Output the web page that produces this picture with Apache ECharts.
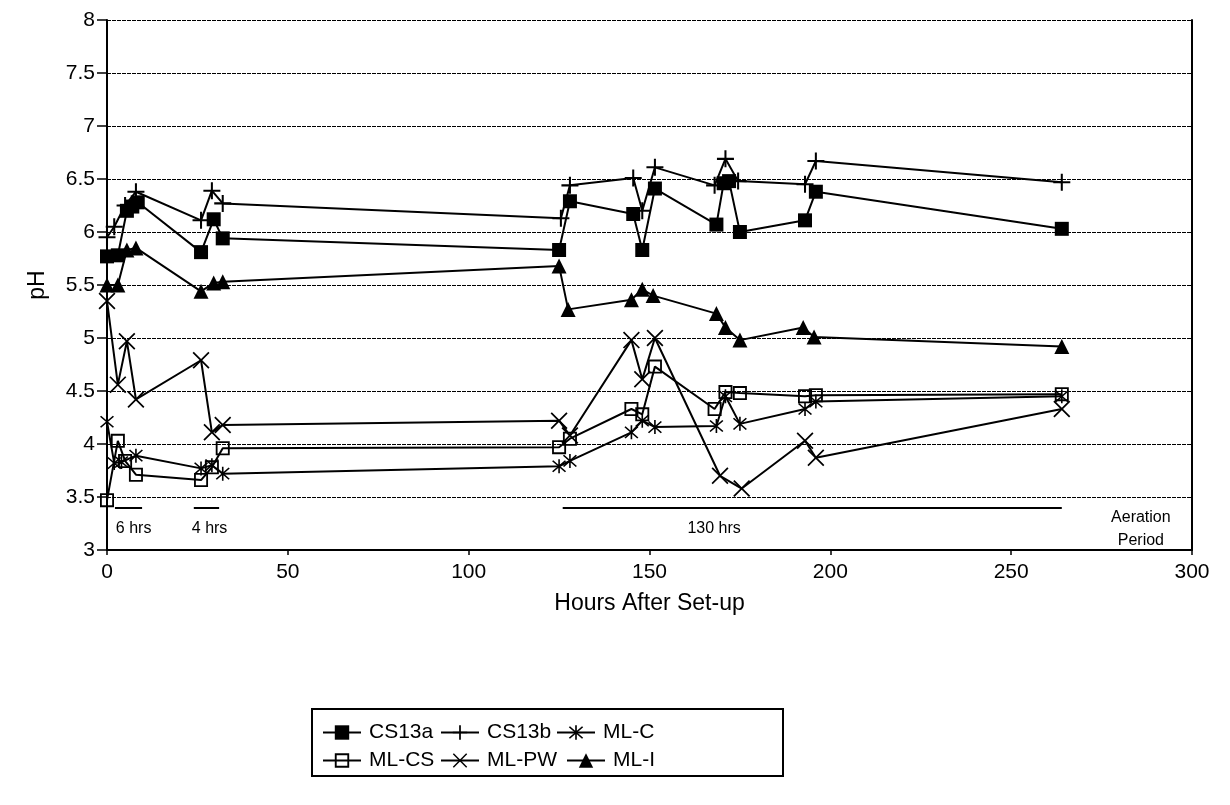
<!DOCTYPE html>
<html>
<head>
<meta charset="utf-8">
<script src="https://cdn.jsdelivr.net/npm/echarts@6/dist/echarts.min.js"></script>
<style>
  html, body { margin: 0; padding: 0; background: #fff; }
  #chart { width: 1230px; height: 805px; }
</style>
</head>
<body>
<div id="chart"></div>
<script>
// pH readings over time for each column
const cs13aHours = [0, 3, 5.5, 7, 8.5, 26, 29.5, 32, 125, 128, 145.5, 148, 151.5, 168.5, 170.5, 172, 175, 193, 196, 264];
const cs13aPH    = [5.77, 5.78, 6.2, 6.24, 6.28, 5.81, 6.12, 5.94, 5.83, 6.29, 6.17, 5.83, 6.41, 6.07, 6.46, 6.48, 6.0, 6.11, 6.38, 6.03];

const cs13bHours = [0, 2, 5, 8, 26, 29, 32, 125.5, 128, 145.5, 148, 151.5, 168, 171, 174.5, 193, 196, 264];
const cs13bPH    = [5.95, 6.05, 6.25, 6.38, 6.11, 6.39, 6.27, 6.13, 6.44, 6.51, 6.2, 6.61, 6.44, 6.69, 6.48, 6.45, 6.67, 6.47];

const mlcHours = [0, 2, 4, 8, 26, 29, 32, 125, 128, 145, 148, 151.5, 168.5, 171, 175, 193, 196, 264];
const mlcPH    = [4.21, 3.82, 3.83, 3.89, 3.77, 3.8, 3.72, 3.79, 3.84, 4.11, 4.22, 4.16, 4.17, 4.45, 4.19, 4.33, 4.4, 4.45];

const mlcsHours = [0, 3, 5, 8, 26, 29, 32, 125, 128, 145, 148, 151.5, 168, 171, 175, 193, 196, 264];
const mlcsPH    = [3.47, 4.03, 3.84, 3.71, 3.66, 3.78, 3.96, 3.97, 4.05, 4.33, 4.28, 4.73, 4.33, 4.49, 4.48, 4.45, 4.46, 4.47];

const mlpwHours = [0, 3, 5.5, 8, 26, 29, 32, 125, 128, 145, 148, 151.5, 169.5, 175.5, 193, 196, 264];
const mlpwPH    = [5.35, 4.56, 4.97, 4.42, 4.79, 4.11, 4.18, 4.22, 4.08, 4.98, 4.61, 5.0, 3.7, 3.58, 4.03, 3.87, 4.33];

const mliHours = [0, 3, 5.5, 8, 26, 29.5, 32, 125, 127.5, 145, 148, 151, 168.5, 171, 175, 192.5, 195.5, 264];
const mliPH    = [5.5, 5.5, 5.83, 5.85, 5.44, 5.52, 5.53, 5.68, 5.27, 5.36, 5.46, 5.4, 5.23, 5.1, 4.98, 5.1, 5.01, 4.92];

// sampling-interval brackets drawn under the curves: [startHour, endHour, pH level]
const periodSpans  = [[2.2, 9.7, 3.4], [24, 31, 3.4], [126, 264, 3.4]];
const periodLabels = [['6 hrs', 7.5, 3.2], ['4 hrs', 28.5, 3.2], ['130 hrs', 168, 3.2]];
const aerationLabel = ['Aeration\nPeriod', 286, 3.19];

// marker shapes built from thin bars
function bar(x1, y1, x2, y2, w) {
  const dx = x2 - x1, dy = y2 - y1, L = Math.hypot(dx, dy);
  const nx = -dy / L * w / 2, ny = dx / L * w / 2;
  const f = v => v.toFixed(2);
  return 'M' + f(x1 + nx) + ',' + f(y1 + ny) + ' L' + f(x2 + nx) + ',' + f(y2 + ny) +
         ' L' + f(x2 - nx) + ',' + f(y2 - ny) + ' L' + f(x1 - nx) + ',' + f(y1 - ny) + ' Z';
}
const plusSym   = 'path://' + bar(10, 0, 10, 20, 2.4) + ' ' + bar(0, 10, 20, 10, 2.4);
const crossSym  = 'path://' + bar(0, 0, 20, 20, 2.2) + ' ' + bar(20, 0, 0, 20, 2.2);
const starSym   = 'path://' + bar(10, 0, 10, 20, 2.0) + ' ' + bar(2, 2, 18, 18, 2.0) + ' ' + bar(18, 2, 2, 18, 2.0);
const hollowSq  = 'path://M0,0 L20,0 L20,20 L0,20 Z M2.6,2.6 L2.6,17.4 L17.4,17.4 L17.4,2.6 Z';

const zip = (xs, ys) => xs.map((x, i) => [x, ys[i]]);

function lineSeries(name, hours, vals, symbol, size) {
  return {
    name: name,
    type: 'line',
    data: zip(hours, vals),
    symbol: symbol,
    symbolSize: size,
    showAllSymbol: true,
    lineStyle: { color: '#000', width: 2 },
    itemStyle: { color: '#000' },
    emphasis: { disabled: true },
    z: 3
  };
}

const chart = echarts.init(document.getElementById('chart'), null, { renderer: 'canvas' });

const FONT = '"Liberation Sans", Arial, Helvetica, sans-serif';

function legendAt(name, left, top) {
  return {
    data: [name],
    left: left,
    top: top,
    orient: 'horizontal',
    itemWidth: 38,
    itemHeight: 18,
    itemGap: 0,
    padding: 0,
    selectedMode: false,
    textStyle: { fontFamily: FONT, fontSize: 21, color: '#000', padding: [0, 0, 0, 3] }
  };
}

const option = {
  animation: false,
  backgroundColor: '#fff',
  grid: { left: 107, right: 38, top: 20, bottom: 255, containLabel: false },
  xAxis: {
    type: 'value',
    min: 0, max: 300, interval: 50,
    name: 'Hours After Set-up',
    nameLocation: 'middle',
    nameGap: 42,
    nameTextStyle: { fontFamily: FONT, fontSize: 23, color: '#000' },
    axisLine: { show: true, onZero: false, lineStyle: { color: '#000', width: 2 } },
    axisTick: { show: true, length: 5, lineStyle: { color: '#000', width: 1.5 } },
    axisLabel: { fontFamily: FONT, fontSize: 21, color: '#000', margin: 12 },
    splitLine: { show: false }
  },
  yAxis: [{
    type: 'value',
    min: 3, max: 8, interval: 0.5,
    name: 'pH',
    nameLocation: 'middle',
    nameGap: 58,
    nameRotate: 90,
    nameTextStyle: { fontFamily: FONT, fontSize: 23, color: '#000' },
    axisLine: { show: true, lineStyle: { color: '#000', width: 2 } },
    axisTick: { show: true, length: 10, lineStyle: { color: '#000', width: 1.5 } },
    axisLabel: { fontFamily: FONT, fontSize: 21, color: '#000', margin: 12 },
    splitLine: { show: true, lineStyle: { color: '#000', width: 1.2, type: [4, 1] } }
  }, {
    type: 'value',
    min: 3, max: 8, interval: 0.5,
    position: 'right',
    axisLine: { show: true, lineStyle: { color: '#000', width: 2 } },
    axisTick: { show: false },
    axisLabel: { show: false },
    splitLine: { show: false }
  }],
  legend: [
    legendAt('CS13a', 322, 722),
    legendAt('CS13b', 440, 722),
    legendAt('ML-C', 556, 722),
    legendAt('ML-CS', 322, 750),
    legendAt('ML-PW', 440, 750),
    legendAt('ML-I', 566, 750)
  ],
  graphic: [{
    type: 'rect',
    shape: { x: 312, y: 709, width: 471, height: 67 },
    style: { fill: 'none', stroke: '#000', lineWidth: 2 },
    silent: true
  }],
  series: [
    lineSeries('CS13a', cs13aHours, cs13aPH, 'rect', 14),
    lineSeries('CS13b', cs13bHours, cs13bPH, plusSym, 17),
    lineSeries('ML-C', mlcHours, mlcPH, starSym, 14),
    lineSeries('ML-CS', mlcsHours, mlcsPH, hollowSq, 14),
    lineSeries('ML-PW', mlpwHours, mlpwPH, crossSym, 17),
    lineSeries('ML-I', mliHours, mliPH, 'triangle', 15),
    {
      name: 'periods',
      type: 'lines',
      coordinateSystem: 'cartesian2d',
      silent: true,
      lineStyle: { color: '#000', width: 2, opacity: 1 },
      data: periodSpans.map(s => ({ coords: [[s[0], s[2]], [s[1], s[2]]] }))
    },
    {
      name: 'periodText',
      type: 'scatter',
      silent: true,
      symbol: 'circle',
      symbolSize: 1,
      itemStyle: { color: '#fff', opacity: 1 },
      label: {
        show: true, position: [0, 0], align: 'center', verticalAlign: 'middle',
        formatter: '{b}', opacity: 1, textBorderWidth: 0,
        fontFamily: FONT, fontSize: 16, color: '#000', lineHeight: 23
      },
      labelLayout: { hideOverlap: false },
      data: periodLabels.map(p => ({ name: p[0], value: [p[1], p[2]] }))
        .concat([{ name: aerationLabel[0], value: [aerationLabel[1], aerationLabel[2]] }])
    }
  ]
};

chart.setOption(option);
</script>
</body>
</html>
